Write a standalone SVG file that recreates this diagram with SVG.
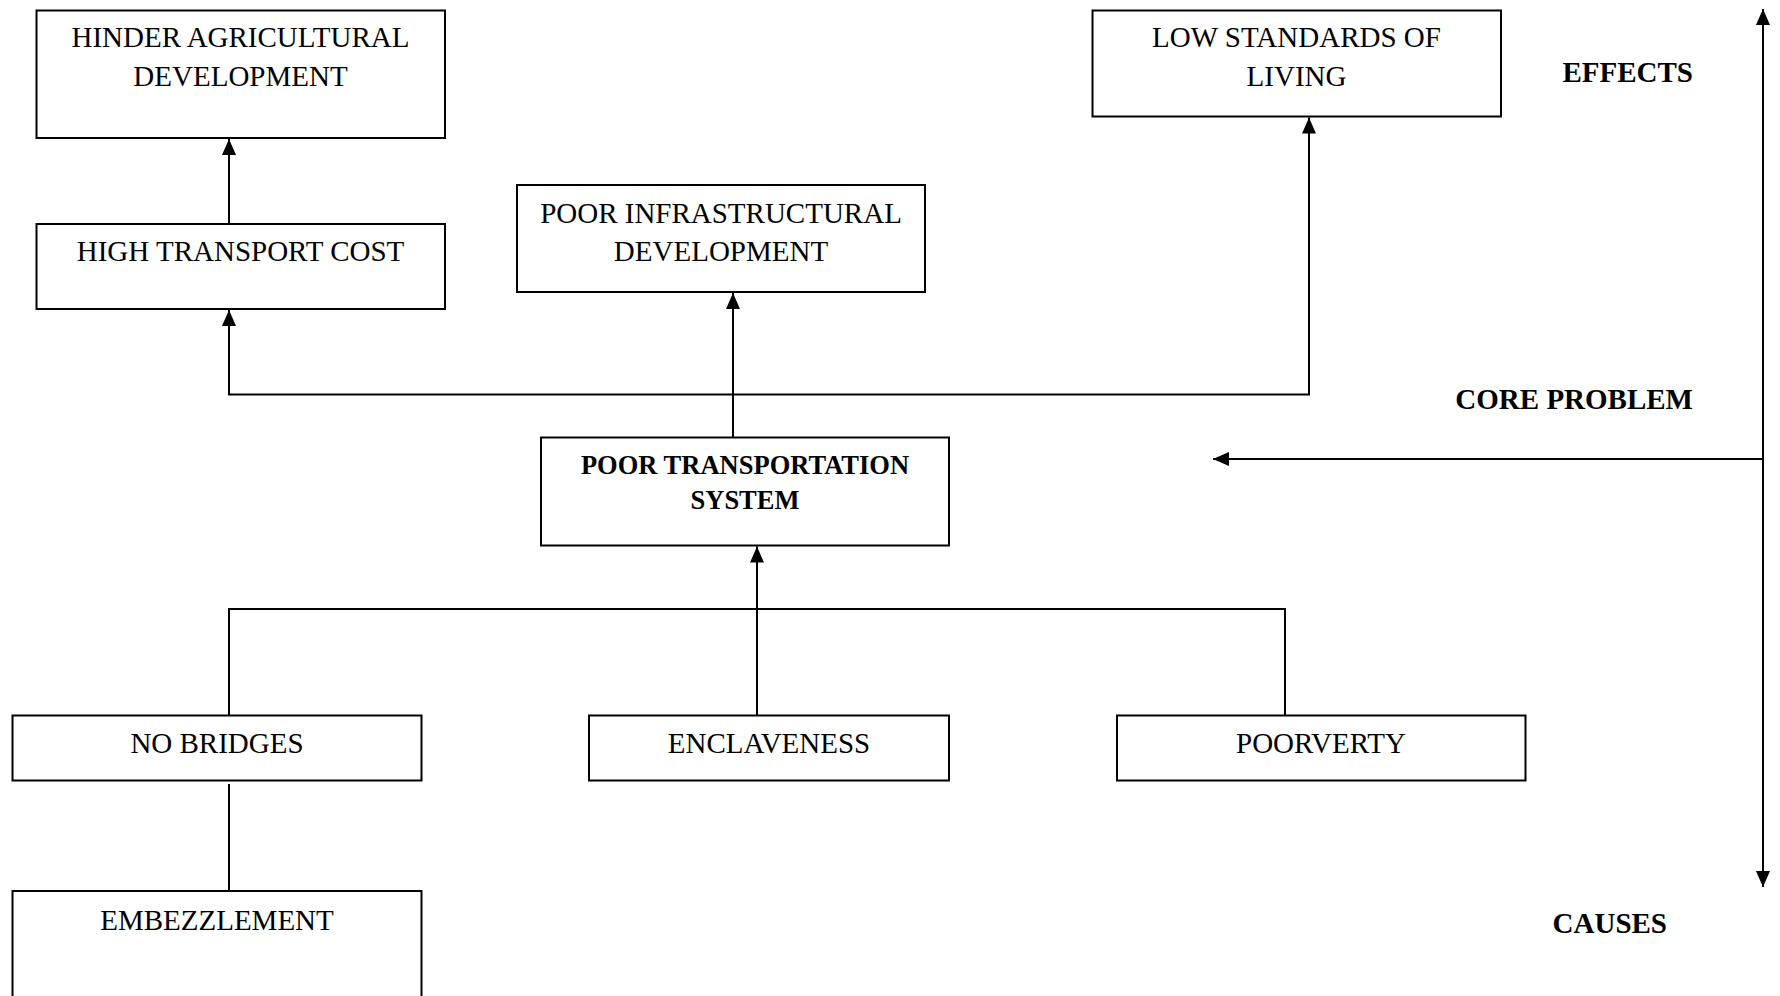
<svg xmlns="http://www.w3.org/2000/svg" width="1780" height="996" viewBox="0 0 1780 996">
<style>
.box{fill:#fff;stroke:#000;stroke-width:2}
.t{font-family:"Liberation Serif","Times New Roman",serif;font-size:29px;fill:#000;text-anchor:middle}
.b{font-family:"Liberation Serif","Times New Roman",serif;font-size:26.5px;font-weight:bold;fill:#000;text-anchor:middle}
.lbl{font-family:"Liberation Serif","Times New Roman",serif;font-size:29px;font-weight:bold;fill:#000}
.c{fill:none;stroke:#000;stroke-width:2}
</style>
<defs>
<marker id="ah" markerUnits="userSpaceOnUse" markerWidth="16" markerHeight="14" refX="16" refY="7" orient="auto">
<path d="M0,0 L16,7 L0,14 z" fill="#000"/>
</marker>
</defs>
<rect width="1780" height="996" fill="#fff"/>
<g id="connectors">
<path class="c" d="M229,223 V139" marker-end="url(#ah)"/>
<path class="c" d="M733,437 V293" marker-end="url(#ah)"/>
<path class="c" d="M229,309 V394.5 H1309 V117.5" marker-end="url(#ah)"/>
<path class="c" d="M229,394.5 V310" marker-end="url(#ah)"/>
<path class="c" d="M757,715 V546.5" marker-end="url(#ah)"/>
<path class="c" d="M229,715 V609 H1285 V715"/>
<path class="c" d="M229,784 V891"/>
<path class="c" d="M1763,459 H1213" marker-end="url(#ah)"/>
<path class="c" d="M1763,459 V9" marker-end="url(#ah)"/>
<path class="c" d="M1763,459 V887" marker-end="url(#ah)"/>
</g>
<g id="hinder">
<rect class="box" x="36.5" y="10.5" width="408.5" height="127.5"/>
<text class="t" x="240.5" y="47">HINDER AGRICULTURAL</text>
<text class="t" x="240.5" y="86">DEVELOPMENT</text>
</g>
<g id="high-transport">
<rect class="box" x="36.5" y="224" width="408.5" height="85"/>
<text class="t" x="240.5" y="261">HIGH TRANSPORT COST</text>
</g>
<g id="poor-infra">
<rect class="box" x="517" y="185" width="408" height="107"/>
<text class="t" x="721" y="223">POOR INFRASTRUCTURAL</text>
<text class="t" x="721" y="261">DEVELOPMENT</text>
</g>
<g id="low-standards">
<rect class="box" x="1092.5" y="10.5" width="408.5" height="106"/>
<text class="t" x="1296.5" y="47">LOW STANDARDS OF</text>
<text class="t" x="1296.5" y="86">LIVING</text>
</g>
<g id="poor-transport">
<rect class="box" x="541" y="437.5" width="408" height="108"/>
<text class="b" x="745" y="474">POOR TRANSPORTATION</text>
<text class="b" x="745" y="509">SYSTEM</text>
</g>
<g id="no-bridges">
<rect class="box" x="12.5" y="715.5" width="409" height="65"/>
<text class="t" x="217" y="753">NO BRIDGES</text>
</g>
<g id="enclaveness">
<rect class="box" x="589" y="715.5" width="360" height="65"/>
<text class="t" x="769" y="753">ENCLAVENESS</text>
</g>
<g id="poorverty">
<rect class="box" x="1117" y="715.5" width="408.5" height="65"/>
<text class="t" x="1321" y="753">POORVERTY</text>
</g>
<g id="embezzlement">
<rect class="box" x="12.5" y="891" width="409" height="130"/>
<text class="t" x="217" y="930">EMBEZZLEMENT</text>
</g>
<g id="labels">
<text class="lbl" x="1693" y="82" text-anchor="end">EFFECTS</text>
<text class="lbl" x="1693" y="409" text-anchor="end">CORE PROBLEM</text>
<text class="lbl" x="1667" y="933" text-anchor="end">CAUSES</text>
</g>
</svg>
